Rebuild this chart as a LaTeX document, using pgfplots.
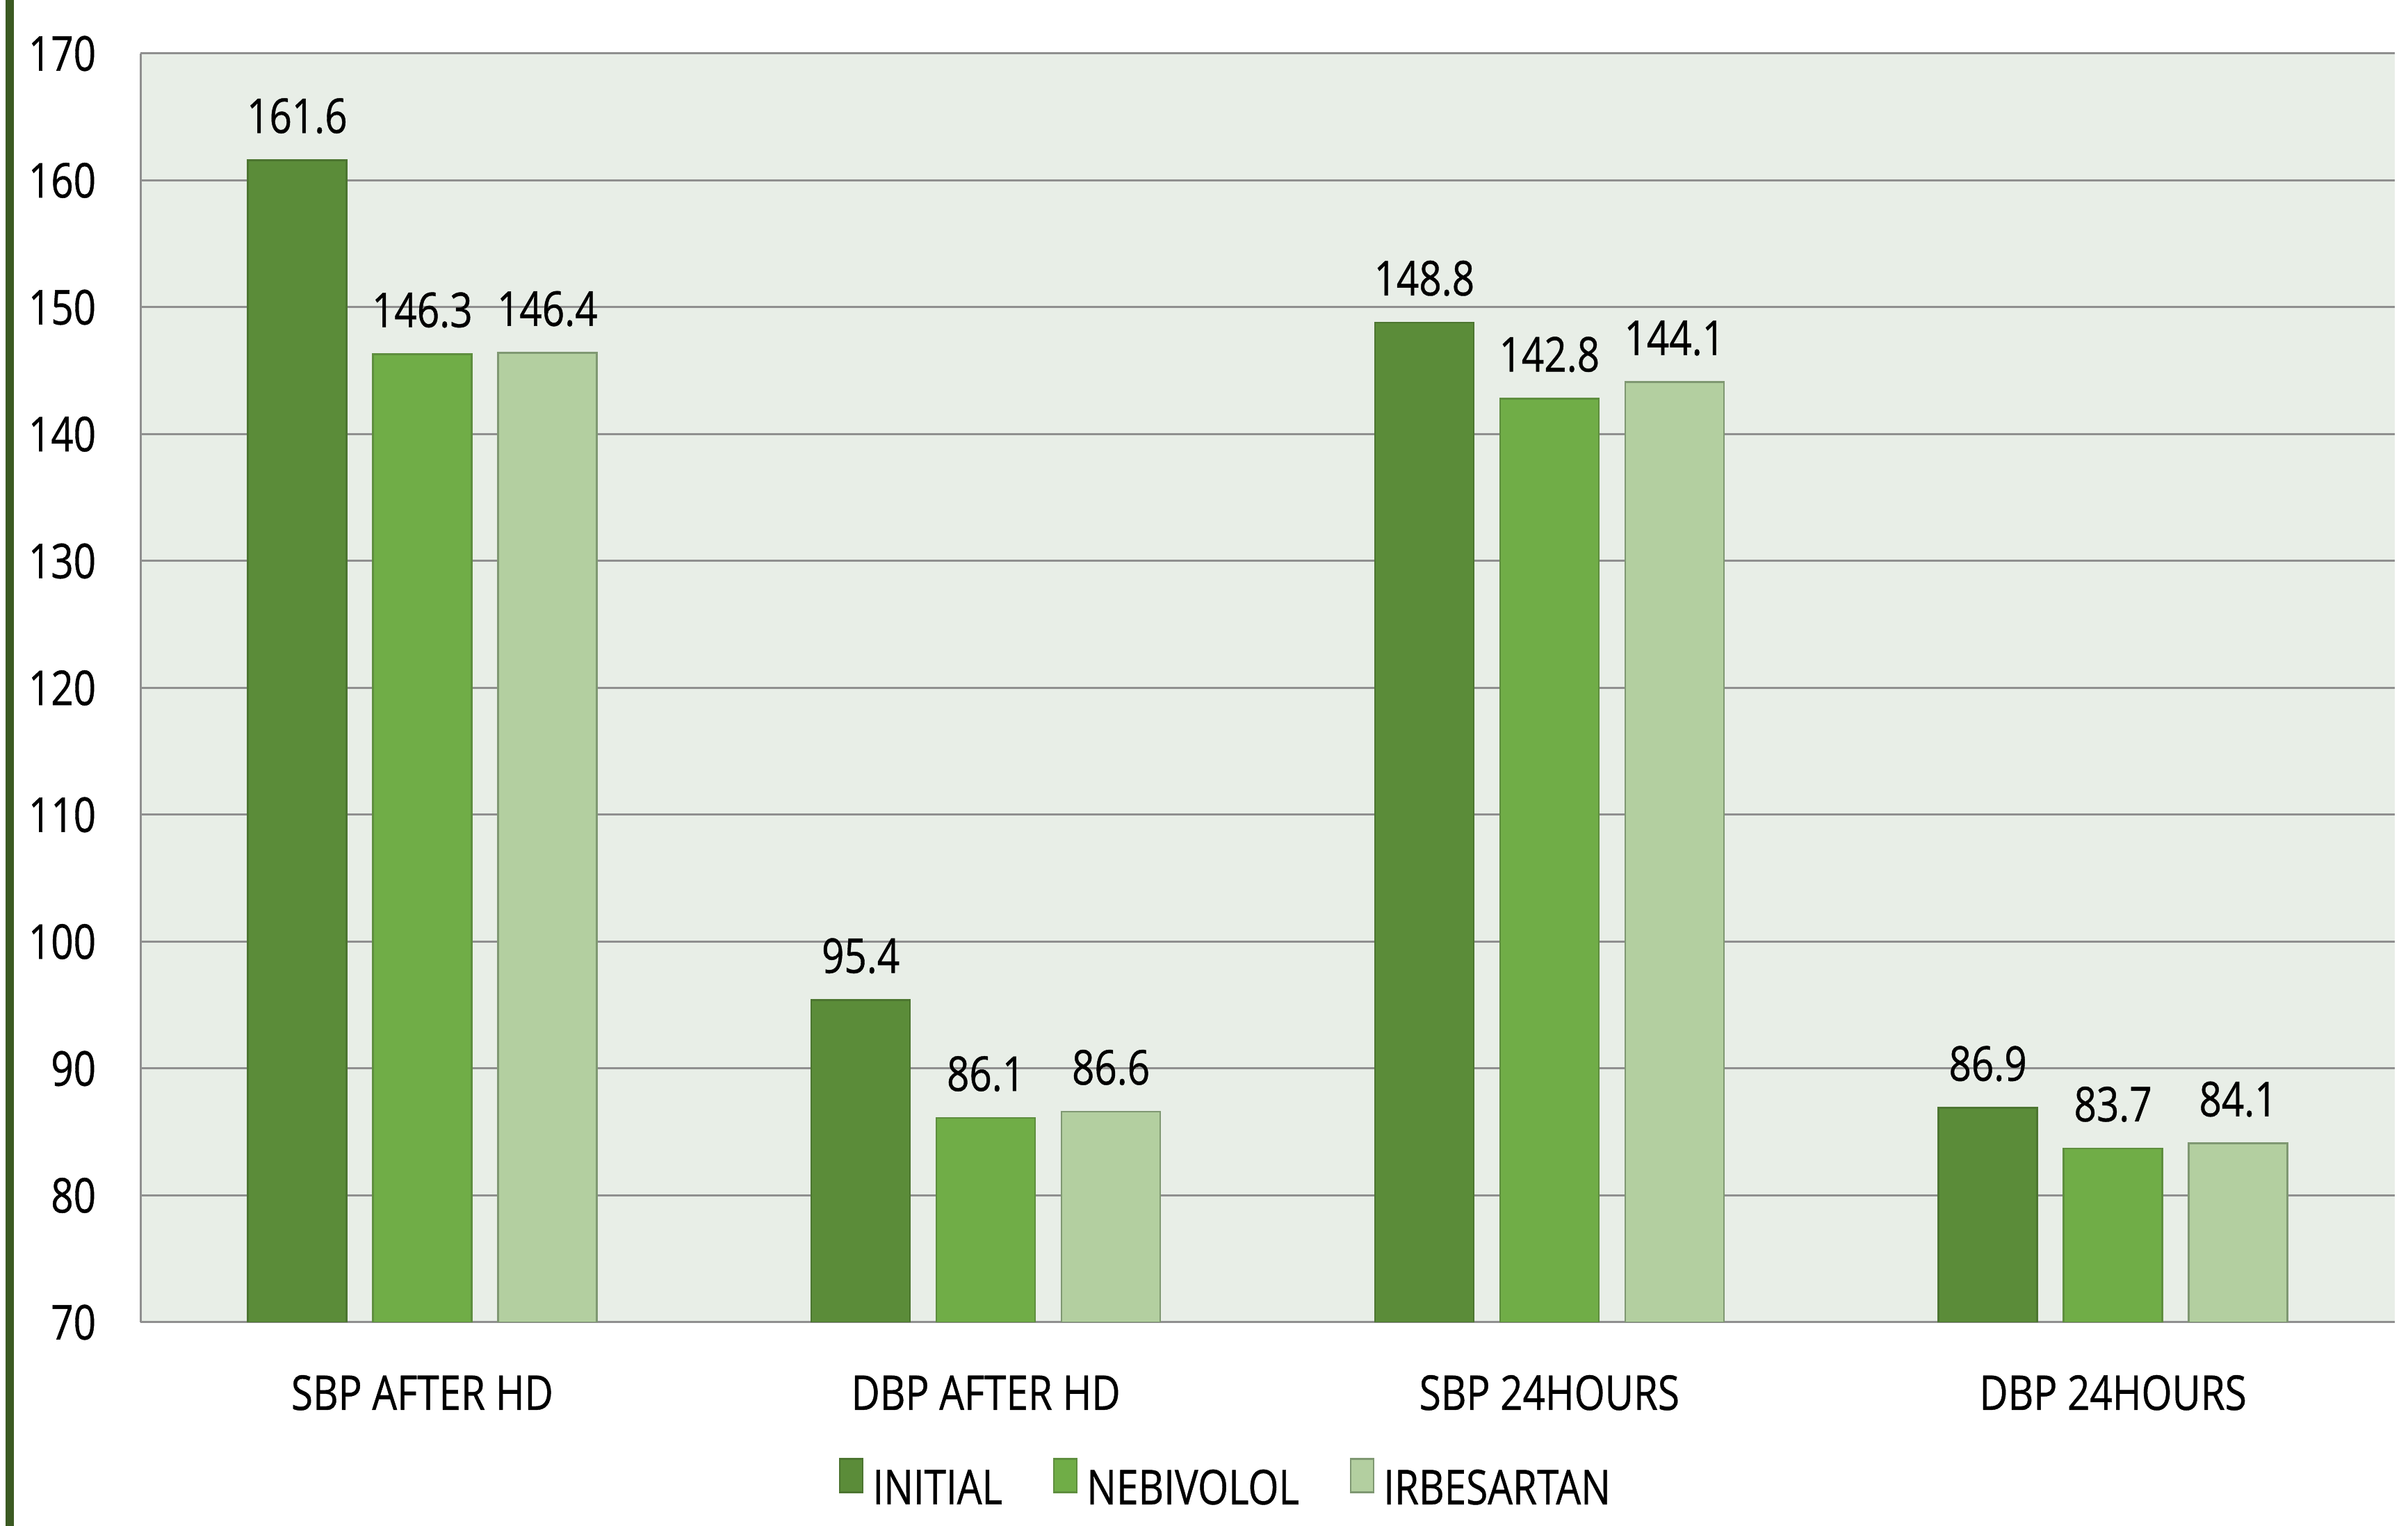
\documentclass[border=0pt]{standalone}
\usepackage{pgfplots}
\pgfplotsset{compat=1.18}
\usepackage{fontspec}
\setmainfont{Open Sans}[FakeStretch=0.82, FakeBold=0.6]
\definecolor{cinit}{HTML}{5B8C39}
\definecolor{cnebi}{HTML}{70AD47}
\definecolor{cirbe}{HTML}{B3CFA0}
\definecolor{dinit}{HTML}{4C7530}
\definecolor{dnebi}{HTML}{5E8E3E}
\definecolor{dirbe}{HTML}{7F9872}
\definecolor{leftbar}{HTML}{3B5A22}
\definecolor{gridc}{HTML}{8F8F8F}
\definecolor{bgc}{HTML}{E8EEE7}
\newcommand{\chfont}{\fontsize{6.9pt}{8pt}\selectfont}
\pgfplotsset{
  mylegend/.style={legend image code/.code={\draw[##1, line width=0.25pt] (0pt,0pt) rectangle (3.3pt,4.8pt);}}
}
\begin{document}
\begin{tikzpicture}
\useasboundingbox (-20.2pt,-29.3pt) rectangle (326.2pt,190.2pt);
\fill[leftbar] (-19.4pt,-29.3pt) rectangle (-18.2pt,190.2pt);
\begin{axis}[
  at={(0,0)}, anchor=south west,
  scale only axis, width=324.3pt, height=182.5pt,
  ybar=3.8pt, bar width=14.2pt,
  xmin=-0.5, xmax=3.5, ymin=70, ymax=170,
  ytick={70,80,...,170},
  xtick={0,1,2,3},
  xticklabels={SBP AFTER HD, DBP AFTER HD, SBP 24HOURS, DBP 24HOURS},
  axis x line*=bottom, axis y line*=left,
  axis line style={gridc, line width=0.3pt, -},
  major tick length=0pt,
  ymajorgrids, grid style={gridc, line width=0.3pt},
  axis background/.style={fill=bgc},
  /pgf/number format/.cd, fixed, precision=1, assume math mode=true,
  /pgfplots/.cd,
  yticklabel style={anchor=east, inner sep=0pt, xshift=-6.2pt, font=\chfont},
  xticklabel style={anchor=base, inner sep=0pt, yshift=-12.6pt, font=\chfont},
  nodes near coords,
  nodes near coords style={anchor=base, inner sep=0pt, yshift=3.9pt, font=\chfont, text=black},
  legend columns=3,
  legend style={at={(0.481,-0.1293)}, anchor=center, draw=none, fill=none,
    font=\chfont, nodes={inner sep=0pt},
    /tikz/every odd column/.append style={column sep=1.3pt},
    /tikz/every even column/.append style={column sep=7.3pt}},
]
\addplot[fill=cinit, draw=dinit, line width=0.25pt, mylegend] coordinates {(0,161.6) (1,95.4) (2,148.8) (3,86.9)};
\addplot[fill=cnebi, draw=dnebi, line width=0.25pt, mylegend] coordinates {(0,146.3) (1,86.1) (2,142.8) (3,83.7)};
\addplot[fill=cirbe, draw=dirbe, line width=0.25pt, mylegend] coordinates {(0,146.4) (1,86.6) (2,144.1) (3,84.1)};
\legend{INITIAL, NEBIVOLOL, IRBESARTAN}
\end{axis}
\end{tikzpicture}
\end{document}
